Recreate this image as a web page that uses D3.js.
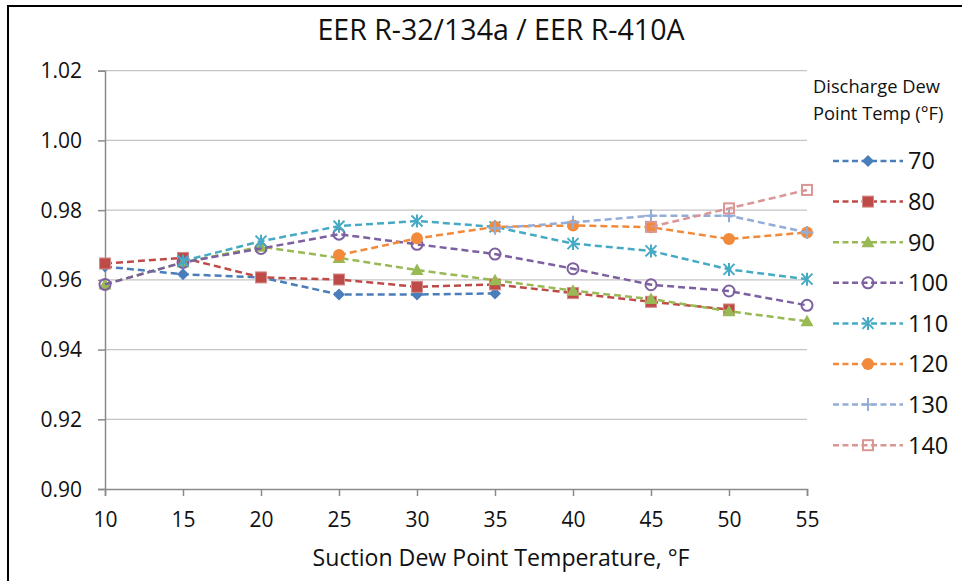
<!DOCTYPE html>
<html><head><meta charset="utf-8">
<script src="https://cdn.jsdelivr.net/npm/d3@7"></script>
<style>
html,body{margin:0;padding:0;background:#fff;}
svg{display:block;font-family:"Open Sans","Liberation Sans",sans-serif;}
</style></head>
<body><svg id="c" width="962" height="581"></svg>
<script>
const title = "EER R-32/134a / EER R-410A";
const xTitle = "Suction Dew Point Temperature, °F";
const legendTitle = ["Discharge Dew", "Point Temp (°F)"];
const suctionTemps = [10, 15, 20, 25, 30, 35, 40, 45, 50, 55];
const yTicks = [0.90, 0.92, 0.94, 0.96, 0.98, 1.00, 1.02];
const seriesNames = ["70", "80", "90", "100", "110", "120", "130", "140"];
const s70  = [0.9638, 0.9616, 0.9607, 0.9558, 0.9558, 0.9561, null, null, null, null];
const s80  = [0.9647, 0.9663, 0.9607, 0.9601, 0.9580, 0.9587, 0.9562, 0.9537, 0.9515, null];
const s90  = [0.9587, 0.9650, 0.9695, 0.9663, 0.9628, 0.9599, 0.9569, 0.9545, 0.9510, 0.9481];
const s100 = [0.9587, 0.9650, 0.9690, 0.9731, 0.9702, 0.9674, 0.9632, 0.9586, 0.9568, 0.9527];
const s110 = [null, 0.9654, 0.9711, 0.9754, 0.9769, 0.9752, 0.9704, 0.9683, 0.9630, 0.9602];
const s120 = [null, null, null, 0.9671, 0.9719, 0.9752, 0.9756, 0.9751, 0.9717, 0.9736];
const s130 = [null, null, null, null, null, 0.9748, 0.9765, 0.9784, 0.9784, 0.9736];
const s140 = [null, null, null, null, null, null, null, 0.9752, 0.9805, 0.9858];
const seriesValues = [s70, s80, s90, s100, s110, s120, s130, s140];

const colors = ["#4A7EBB", "#BE4B48", "#98B954", "#7D60A0", "#46AAC5", "#F28A3B", "#93ACD8", "#D99694"];
const markerTypes = ["diamond", "square", "triangle", "openCircle", "star", "circle", "plus", "openSquare"];

const svg = d3.select("#c");
const x = d3.scaleLinear().domain([10, 55]).range([105, 807]);
const y = d3.scaleLinear().domain([0.90, 1.02]).range([489, 70.7]);

// fit a text element to a target width by adjusting font size
function fitWidth(sel, target) {
  const w = sel.node().getComputedTextLength();
  const fs = parseFloat(sel.attr("font-size"));
  if (w > 0) sel.attr("font-size", (fs * target / w).toFixed(2));
  return sel;
}

// frame
svg.append("line").attr("x1", 8).attr("x2", 8).attr("y1", 6).attr("y2", 581).attr("stroke", "#000").attr("stroke-width", 2);
svg.append("line").attr("x1", 7).attr("x2", 962).attr("y1", 6).attr("y2", 6).attr("stroke", "#000").attr("stroke-width", 2);

// gridlines
svg.append("g").selectAll("line").data(yTicks.slice(1)).join("line")
  .attr("x1", 105).attr("x2", 807)
  .attr("y1", d => y(d)).attr("y2", d => y(d))
  .attr("stroke", "#C4C4C4").attr("stroke-width", 1.3);

// y axis
const yAxis = d3.axisLeft(y).tickValues(yTicks).tickFormat(d3.format(".2f")).tickSize(7).tickPadding(16);
const gy = svg.append("g").attr("transform", "translate(105,0)").call(yAxis);
gy.select(".domain").attr("stroke", "#8A8A8A").attr("stroke-width", 1.5);
gy.selectAll(".tick line").attr("stroke", "#8A8A8A").attr("stroke-width", 1.5);
gy.selectAll(".tick text").attr("font-size", 21).attr("fill", "#111").attr("font-family", "Open Sans").attr("dy", "0.34em");

// x axis
const xAxis = d3.axisBottom(x).tickValues(suctionTemps).tickFormat(d3.format("d")).tickSize(7).tickPadding(16);
const gx = svg.append("g").attr("transform", "translate(0,489)").call(xAxis);
gx.select(".domain").attr("stroke", "#8A8A8A").attr("stroke-width", 1.5);
gx.selectAll(".tick line").attr("stroke", "#8A8A8A").attr("stroke-width", 1.5);
gx.selectAll(".tick text").attr("font-size", 21).attr("fill", "#111").attr("font-family", "Open Sans");

// titles
fitWidth(svg.append("text").attr("x", 501).attr("y", 39.5).attr("text-anchor", "middle")
  .attr("font-size", 26).attr("fill", "#111").text(title), 367);
fitWidth(svg.append("text").attr("x", 501).attr("y", 565.5).attr("text-anchor", "middle")
  .attr("font-size", 24).attr("fill", "#111").text(xTitle), 377);

function drawMarker(g, type, color) {
  const s = 5.5;
  switch (type) {
    case "diamond":
      g.append("path").attr("d", `M0,${-s-0.5}L${s+0.5},0L0,${s+0.5}L${-s-0.5},0Z`).attr("fill", color); break;
    case "square":
      g.append("rect").attr("x", -5.5).attr("y", -5.5).attr("width", 11).attr("height", 11)
        .attr("fill", color).attr("stroke", "#D48C8A").attr("stroke-width", 1); break;
    case "triangle":
      g.append("path").attr("d", `M0,-6.5L6.5,5L-6.5,5Z`).attr("fill", color); break;
    case "openCircle":
      g.append("circle").attr("r", 5.5).attr("fill", "none").attr("stroke", color).attr("stroke-width", 2); break;
    case "star":
      g.append("path").attr("d", `M0,-6.5V6.5M-5.5,-5.5L5.5,5.5M-5.5,5.5L5.5,-5.5`)
        .attr("fill", "none").attr("stroke", color).attr("stroke-width", 2); break;
    case "circle":
      g.append("circle").attr("r", 6).attr("fill", color); break;
    case "plus":
      g.append("path").attr("d", `M0,-6.5V6.5M-6.5,0H6.5`).attr("fill", "none").attr("stroke", color).attr("stroke-width", 2); break;
    case "openSquare":
      g.append("rect").attr("x", -5).attr("y", -5).attr("width", 10).attr("height", 10)
        .attr("fill", "none").attr("stroke", color).attr("stroke-width", 2); break;
  }
}

const line = d3.line().defined(d => d.v !== null).x(d => x(d.t)).y(d => y(d.v));
seriesValues.forEach((vals, i) => {
  const pts = suctionTemps.map((t, j) => ({t, v: vals[j]}));
  const g = svg.append("g");
  g.append("path").attr("d", line(pts)).attr("fill", "none").attr("stroke", colors[i])
    .attr("stroke-width", 2.5).attr("stroke-dasharray", "7,4");
  pts.filter(d => d.v !== null).forEach(d => {
    const m = g.append("g").attr("transform", `translate(${x(d.t)},${y(d.v)})`);
    drawMarker(m, markerTypes[i], colors[i]);
  });
});

// legend
const lg = svg.append("g");
const lt1 = lg.append("text").attr("x", 813).attr("y", 93).attr("font-size", 18).attr("fill", "#111").text(legendTitle[0]);
fitWidth(lt1, 127);
lg.append("text").attr("x", 813).attr("y", 119.5).attr("font-size", lt1.attr("font-size")).attr("fill", "#111").text(legendTitle[1]);
seriesNames.forEach((n, i) => {
  const cy = 161 + i * 40.6;
  lg.append("line").attr("x1", 833).attr("x2", 903).attr("y1", cy).attr("y2", cy)
    .attr("stroke", colors[i]).attr("stroke-width", 2.5).attr("stroke-dasharray", "6,3.5");
  const m = lg.append("g").attr("transform", `translate(868,${cy})`);
  drawMarker(m, markerTypes[i], colors[i]);
  lg.append("text").attr("x", 908).attr("y", cy).attr("dy", "0.36em").attr("font-size", 23.5).attr("fill", "#111").text(n);
});
</script></body></html>
